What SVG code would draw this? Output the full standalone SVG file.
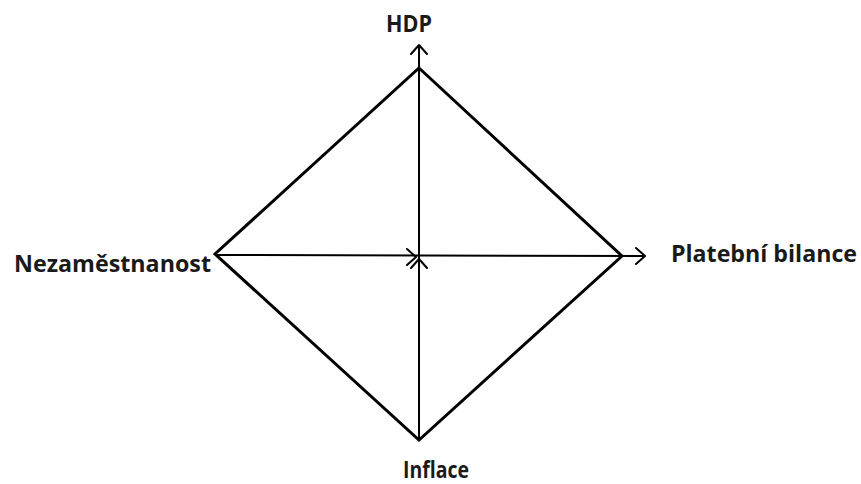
<svg xmlns="http://www.w3.org/2000/svg" width="861" height="484" viewBox="0 0 861 484">
<defs>
<style>
.lbl{font-family:"Open Sans","Liberation Sans",sans-serif;font-weight:bold;font-size:22.5px;fill:#1a1a1a}
.dia{stroke:#000;stroke-width:3;fill:none;stroke-linejoin:miter}
.axis{stroke:#000;stroke-width:2;fill:none}
.head{stroke:#000;stroke-width:2;fill:none;stroke-linecap:round;stroke-linejoin:round}
</style>
</defs>
<rect width="861" height="484" fill="#fff"/>
<g id="diamond">
<polygon class="dia" points="419,68 622,256 419,440 215,254"/>
</g>
<g id="connectors">
<line class="axis" x1="215" y1="255" x2="645" y2="256"/>
<line class="axis" x1="419" y1="440" x2="419" y2="46"/>
<polyline class="head" points="411,54 419,45 427,54"/>
<polyline class="head" points="636,248 645,256 636,264"/>
<polyline class="head" points="407,249 416,257 407,265"/>
<polyline class="head" points="411,268 419,259 427,268"/>
</g>
<g id="HDP"><text class="lbl" x="386" y="32" textLength="46" lengthAdjust="spacingAndGlyphs">HDP</text></g>
<g id="Nezamestnanost"><text class="lbl" x="14" y="272" textLength="197" lengthAdjust="spacingAndGlyphs">Nezaměstnanost</text></g>
<g id="Platebni"><text class="lbl" x="671" y="262" textLength="186" lengthAdjust="spacingAndGlyphs">Platební bilance</text></g>
<g id="Inflace"><text class="lbl" x="403" y="478" textLength="66" lengthAdjust="spacingAndGlyphs">Inflace</text></g>
</svg>
